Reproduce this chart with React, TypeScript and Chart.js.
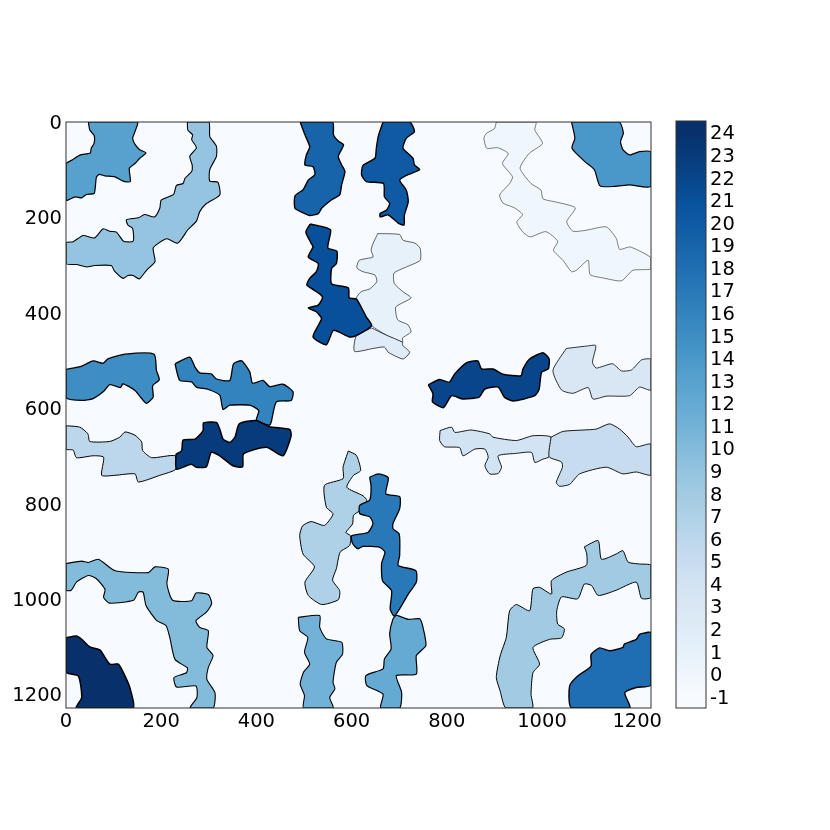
import React, { useEffect, useRef } from "react";
import { Chart, registerables } from "chart.js";

Chart.register(...registerables);

type P = [number, number];

const axisTicks = [0, 200, 400, 600, 800, 1000, 1200];
const imageSize = 1229;
const colorbarTicks = [-1, 0, 1, 2, 3, 4, 5, 6, 7, 8, 9, 10, 11, 12, 13, 14, 15, 16, 17, 18, 19, 20, 21, 22, 23, 24];
const colorbarRange: P = [-1.5, 24.5];
const levelColors = ["#f7fbff", "#eff6fc", "#e7f1fa", "#dfecf7", "#d9e7f5", "#d2e3f3", "#c8dcf0", "#bcd7eb", "#aed1e7", "#a1cbe2", "#94c4df", "#83bbdb", "#73b2d8", "#64aad3", "#57a1ce", "#4a98c9", "#3e8ec4", "#3383be", "#2979b9", "#1f6eb3", "#1764ab", "#0f5aa3", "#08509a", "#08458a", "#083b7b", "#08306b"];

const background: P[] = [[0, 0], [1229, 0], [1229, 1229], [0, 1229]];
const r0: P[] = [[904,0],[900,14],[883,24],[878,34],[884,55],[907,54],[929,66],[917,87],[938,115],[932,129],[911,153],[918,170],[942,180],[959,194],[947,210],[960,231],[975,241],[1008,230],[1033,250],[1024,269],[1044,290],[1062,314],[1072,311],[1097,290],[1101,320],[1128,327],[1167,333],[1191,311],[1229,308],[1229,285],[1202,269],[1184,262],[1163,267],[1156,244],[1135,220],[1093,227],[1065,229],[1052,209],[1070,180],[1030,168],[1002,161],[998,143],[977,129],[954,97],[973,66],[1001,45],[985,17],[987,0]];
const r1: P[] = [[655,234],[645,255],[641,269],[645,283],[616,290],[611,306],[624,314],[649,321],[653,335],[638,350],[620,356],[610,370],[631,409],[642,427],[673,447],[707,462],[707,453],[725,440],[718,425],[697,415],[693,388],[725,369],[708,356],[690,339],[689,317],[715,304],[744,290],[744,265],[733,254],[708,248],[701,236]];
const r2: P[] = [[642,432],[610,448],[606,481],[645,475],[669,472],[677,483],[708,497],[722,483],[707,468],[707,462],[673,447]];
const r3: P[] = [[1051,475],[1093,470],[1113,469],[1106,504],[1114,516],[1148,507],[1167,522],[1188,520],[1209,499],[1229,498],[1229,562],[1205,556],[1184,574],[1135,575],[1107,581],[1097,557],[1065,569],[1041,562],[1023,521]];
const r4: P[] = [[786,647],[810,640],[817,651],[851,646],[890,654],[897,661],[946,668],[981,658],[1019,661],[1015,702],[1002,707],[985,714],[978,693],[946,695],[908,700],[915,724],[908,737],[890,738],[880,721],[887,703],[880,686],[859,686],[834,700],[827,683],[795,681],[785,668]];
const r5: P[] = [[1019,661],[1044,649],[1086,646],[1114,644],[1142,633],[1163,644],[1181,661],[1198,681],[1229,676],[1229,740],[1198,734],[1170,738],[1135,724],[1079,738],[1058,760],[1037,764],[1030,756],[1043,724],[1041,713],[1015,702]];
const r6: P[] = [[0,637],[29,640],[46,654],[50,670],[92,670],[113,661],[124,650],[145,657],[159,671],[161,689],[180,704],[229,700],[231,728],[197,741],[152,755],[145,738],[103,741],[75,741],[79,703],[57,700],[22,704],[15,688],[0,686]];
const r7: P[] = [[593,690],[610,699],[619,731],[604,741],[590,766],[624,784],[632,794],[617,815],[604,825],[602,843],[588,861],[598,868],[596,888],[576,902],[568,937],[560,961],[575,983],[572,1002],[537,1012],[509,993],[502,965],[522,933],[498,906],[491,867],[497,847],[515,838],[543,846],[561,822],[547,808],[543,762],[582,748],[582,724]];
const r8: P[] = [[1089,891],[1118,878],[1125,917],[1156,906],[1170,899],[1181,923],[1205,927],[1229,930],[1229,997],[1209,999],[1198,965],[1156,982],[1118,993],[1104,972],[1089,969],[1075,1000],[1041,996],[1031,1025],[1033,1053],[1047,1063],[1041,1082],[1016,1085],[981,1102],[995,1137],[981,1155],[977,1200],[980,1229],[924,1229],[912,1193],[904,1165],[912,1120],[925,1081],[932,1025],[946,1012],[974,1025],[981,979],[995,976],[1020,990],[1020,962],[1051,944],[1093,930],[1094,906]];
const r9: P[] = [[255,0],[256,17],[266,27],[264,37],[274,54],[260,72],[265,90],[264,104],[250,118],[246,129],[232,133],[226,152],[200,164],[197,181],[186,199],[165,194],[152,201],[127,205],[130,216],[140,223],[141,250],[121,250],[106,231],[92,229],[78,224],[60,243],[36,238],[15,251],[0,253],[0,297],[22,299],[43,304],[60,301],[95,301],[102,313],[120,328],[130,322],[141,322],[154,329],[170,310],[187,293],[183,265],[193,255],[212,245],[235,254],[256,226],[274,208],[281,188],[295,171],[323,153],[319,126],[302,124],[302,100],[316,72],[316,51],[302,30],[300,0]];
const r10: P[] = [[0,926],[33,921],[47,924],[68,917],[103,941],[173,945],[187,933],[215,938],[212,969],[224,1003],[264,1004],[273,988],[299,991],[306,1010],[295,1028],[273,1046],[281,1060],[299,1067],[296,1102],[309,1119],[299,1144],[296,1169],[313,1197],[309,1229],[261,1229],[275,1207],[273,1183],[232,1185],[227,1165],[253,1155],[255,1145],[229,1127],[218,1081],[210,1056],[190,1045],[168,1014],[162,986],[152,986],[142,1003],[91,1009],[79,997],[82,980],[64,958],[47,951],[22,965],[11,982],[0,982]];
const r11: P[] = [[488,1039],[533,1035],[533,1060],[547,1084],[579,1091],[581,1116],[568,1133],[561,1175],[565,1189],[554,1207],[561,1229],[499,1229],[501,1203],[492,1179],[499,1154],[512,1137],[501,1112],[508,1081],[491,1067]];
const r12: P[] = [[694,1034],[719,1043],[743,1042],[750,1060],[756,1098],[736,1119],[736,1158],[694,1161],[705,1196],[701,1229],[661,1229],[666,1200],[632,1182],[630,1161],[666,1147],[669,1126],[683,1105],[680,1073],[687,1042]];
const r13: P[] = [[47,0],[50,17],[59,28],[59,45],[53,55],[51,65],[30,69],[14,79],[0,88],[0,164],[19,157],[33,159],[43,152],[59,150],[62,132],[64,115],[70,110],[82,113],[103,115],[120,124],[135,125],[133,97],[145,87],[155,76],[168,65],[155,58],[145,47],[140,34],[145,20],[150,0]];
const r14: P[] = [[1062,0],[1069,34],[1063,55],[1090,83],[1110,100],[1122,134],[1153,135],[1184,132],[1229,135],[1229,63],[1205,62],[1184,69],[1170,58],[1165,41],[1171,23],[1162,0]];
const r15: P[] = [[0,519],[33,512],[57,501],[78,506],[88,497],[124,487],[185,487],[190,521],[196,541],[182,553],[183,577],[169,590],[159,580],[145,563],[120,549],[114,557],[92,551],[78,566],[57,580],[33,584],[0,578]];
const r16: P[] = [[229,507],[260,493],[271,514],[281,526],[305,528],[316,539],[344,542],[352,507],[369,501],[386,524],[392,548],[414,542],[428,555],[456,550],[477,566],[473,584],[442,587],[431,630],[427,636],[400,626],[405,605],[386,594],[344,594],[330,603],[323,573],[299,561],[274,556],[264,545],[239,542]];
const r17: P[] = [[638,745],[656,738],[677,746],[672,780],[701,786],[701,811],[687,842],[687,853],[700,864],[701,909],[698,930],[735,941],[736,965],[719,990],[701,1021],[689,1036],[681,1021],[684,983],[665,962],[663,926],[670,902],[659,892],[624,890],[613,895],[602,884],[600,868],[634,861],[645,842],[638,828],[617,821],[617,804],[638,793],[641,765]];
const r18: P[] = [[1205,1074],[1229,1071],[1229,1181],[1198,1186],[1174,1197],[1184,1229],[1062,1229],[1058,1183],[1075,1162],[1103,1141],[1103,1117],[1121,1103],[1142,1109],[1170,1102],[1173,1095],[1198,1085]];
const r19: P[] = [[492,0],[502,27],[512,52],[505,69],[502,90],[519,94],[523,110],[509,122],[498,142],[481,155],[481,181],[495,189],[512,196],[530,192],[537,181],[558,163],[575,153],[579,132],[586,104],[579,90],[572,72],[583,48],[572,40],[562,27],[560,0]];
const r20: P[] = [[666,0],[656,30],[652,55],[649,76],[624,91],[621,111],[631,125],[667,129],[669,157],[680,171],[673,185],[660,192],[660,199],[677,195],[698,212],[710,216],[711,195],[719,167],[715,143],[701,122],[715,112],[743,100],[732,90],[729,76],[708,55],[715,34],[732,20],[722,0]];
const r21: P[] = [[513,214],[504,231],[515,254],[519,262],[509,283],[530,297],[526,314],[512,328],[506,342],[522,353],[539,367],[530,384],[509,390],[526,398],[537,412],[532,423],[519,451],[547,467],[562,437],[596,451],[610,448],[642,427],[631,409],[610,371],[595,369],[593,348],[558,339],[558,307],[568,297],[569,271],[550,264],[556,227],[540,220]];
const r22: P[] = [[761,551],[785,540],[805,546],[817,528],[841,505],[865,501],[873,518],[897,518],[918,529],[956,532],[960,518],[974,497],[1002,484],[1015,497],[1013,518],[999,525],[994,560],[985,574],[939,585],[921,577],[908,556],[880,560],[868,577],[834,581],[810,574],[793,599],[770,587],[771,570]];
const r23: P[] = [[231,697],[243,689],[246,667],[271,665],[288,647],[289,631],[316,630],[323,644],[330,665],[344,672],[355,661],[364,633],[400,626],[427,639],[470,645],[473,658],[456,700],[421,682],[373,696],[371,723],[351,721],[323,700],[305,693],[295,723],[274,724],[263,718],[232,728]];
const r24: P[] = [[0,1082],[22,1078],[33,1085],[50,1101],[71,1107],[92,1137],[110,1137],[124,1162],[134,1186],[141,1229],[22,1229],[33,1207],[26,1162],[0,1154]];

const regions: P[][] = [background, r0, r1, r2, r3, r4, r5, r6, r7, r8, r9, r10, r11, r12, r13, r14, r15, r16, r17, r18, r19, r20, r21, r22, r23, r24];
const contourWidths = [0, 0.5, 0.6, 0.7, 0.8, 0.9, 0.9, 1, 1, 1, 1.1, 1.1, 1.1, 1.2, 1.2, 1.2, 1.3, 1.3, 1.3, 1.4, 1.4, 1.4, 1.5, 1.5, 1.5, 1.5];

const textFont = { family: "'DejaVu Sans'", size: 19.5 };
const frameColor = "#333333";

const framePlugin = {
  id: "frame",
  afterDatasetsDraw(chart: any) {
    const { ctx, chartArea: a } = chart;
    ctx.save();
    ctx.strokeStyle = frameColor;
    ctx.lineWidth = 1;
    ctx.strokeRect(a.left, a.top, a.right - a.left, a.bottom - a.top);
    ctx.restore();
  },
};

const setTicks = (values: number[]) => (scale: any) => {
  scale.ticks = values.map((value) => ({ value }));
};
const plainLabel = (value: number | string) => String(value);

const colorbarFill = (ctx: any) => {
  const { chart } = ctx;
  const a = chart.chartArea;
  if (!a) return levelColors[0];
  const g = chart.ctx.createLinearGradient(0, a.bottom, 0, a.top);
  levelColors.forEach((c, i) => g.addColorStop((i + 0.5) / levelColors.length, c));
  return g;
};

export default function App() {
  const mapRef = useRef<HTMLCanvasElement>(null);
  const barRef = useRef<HTMLCanvasElement>(null);

  useEffect(() => {
    const map = new Chart(mapRef.current!, {
      type: "scatter",
      data: {
        datasets: regions.map((poly, i) => ({
          label: String(i - 1),
          data: [...poly, poly[0]].map(([x, y]) => ({ x, y })),
          showLine: true,
          order: regions.length - i,
          fill: "shape",
          backgroundColor: levelColors[i],
          borderColor: "#000000",
          borderWidth: contourWidths[i],
          borderJoinStyle: "round",
          tension: i === 0 ? 0 : 0.2,
          pointRadius: 0,
          pointHoverRadius: 0,
        })),
      },
      options: {
        animation: false,
        responsive: false,
        devicePixelRatio: 1,
        events: [],
        layout: { autoPadding: false, padding: { top: 122, right: 179, left: 0, bottom: 0 } },
        plugins: { legend: { display: false }, tooltip: { enabled: false } },
        scales: {
          x: {
            type: "linear",
            min: 0,
            max: imageSize,
            afterBuildTicks: setTicks(axisTicks),
            afterFit: (s: any) => { s.height = 122; },
            grid: { display: false, drawTicks: false },
            border: { display: false },
            ticks: { color: "#000", font: textFont, padding: 2, maxRotation: 0, autoSkip: false, callback: plainLabel },
          },
          y: {
            type: "linear",
            reverse: true,
            min: 0,
            max: imageSize,
            afterBuildTicks: setTicks(axisTicks),
            afterFit: (s: any) => { s.width = 66; },
            grid: { display: false, drawTicks: false },
            border: { display: false },
            ticks: { color: "#000", font: textFont, padding: 4, autoSkip: false, labelOffset: 2, callback: plainLabel },
          },
        },
      },
      plugins: [framePlugin],
    } as any);

    const bar = new Chart(barRef.current!, {
      type: "bar",
      data: {
        labels: [""],
        datasets: [{
          label: "colorbar",
          data: [colorbarRange],
          backgroundColor: colorbarFill,
          borderWidth: 0,
          barPercentage: 1,
          categoryPercentage: 1,
        }],
      },
      options: {
        animation: false,
        responsive: false,
        devicePixelRatio: 1,
        events: [],
        layout: { autoPadding: false, padding: { top: 121, left: 676, right: 0, bottom: 122 } },
        plugins: { legend: { display: false }, tooltip: { enabled: false } },
        scales: {
          x: { display: false },
          y: {
            type: "linear",
            position: "right",
            min: colorbarRange[0],
            max: colorbarRange[1],
            afterBuildTicks: setTicks(colorbarTicks),
            afterFit: (s: any) => { s.width = 124; },
            grid: { display: false, drawTicks: false },
            border: { display: false },
            ticks: { color: "#000", font: textFont, padding: 4, autoSkip: false, labelOffset: 2, callback: plainLabel },
          },
        },
      },
      plugins: [framePlugin],
    } as any);

    return () => {
      map.destroy();
      bar.destroy();
    };
  }, []);

  const canvasStyle: React.CSSProperties = { position: "absolute", left: 0, top: 0 };
  return (
    <div style={{ position: "fixed", left: 0, top: 0, width: 830, height: 830, background: "#fff" }}>
      <canvas ref={mapRef} width={830} height={830} style={canvasStyle} />
      <canvas ref={barRef} width={830} height={830} style={canvasStyle} />
    </div>
  );
}
